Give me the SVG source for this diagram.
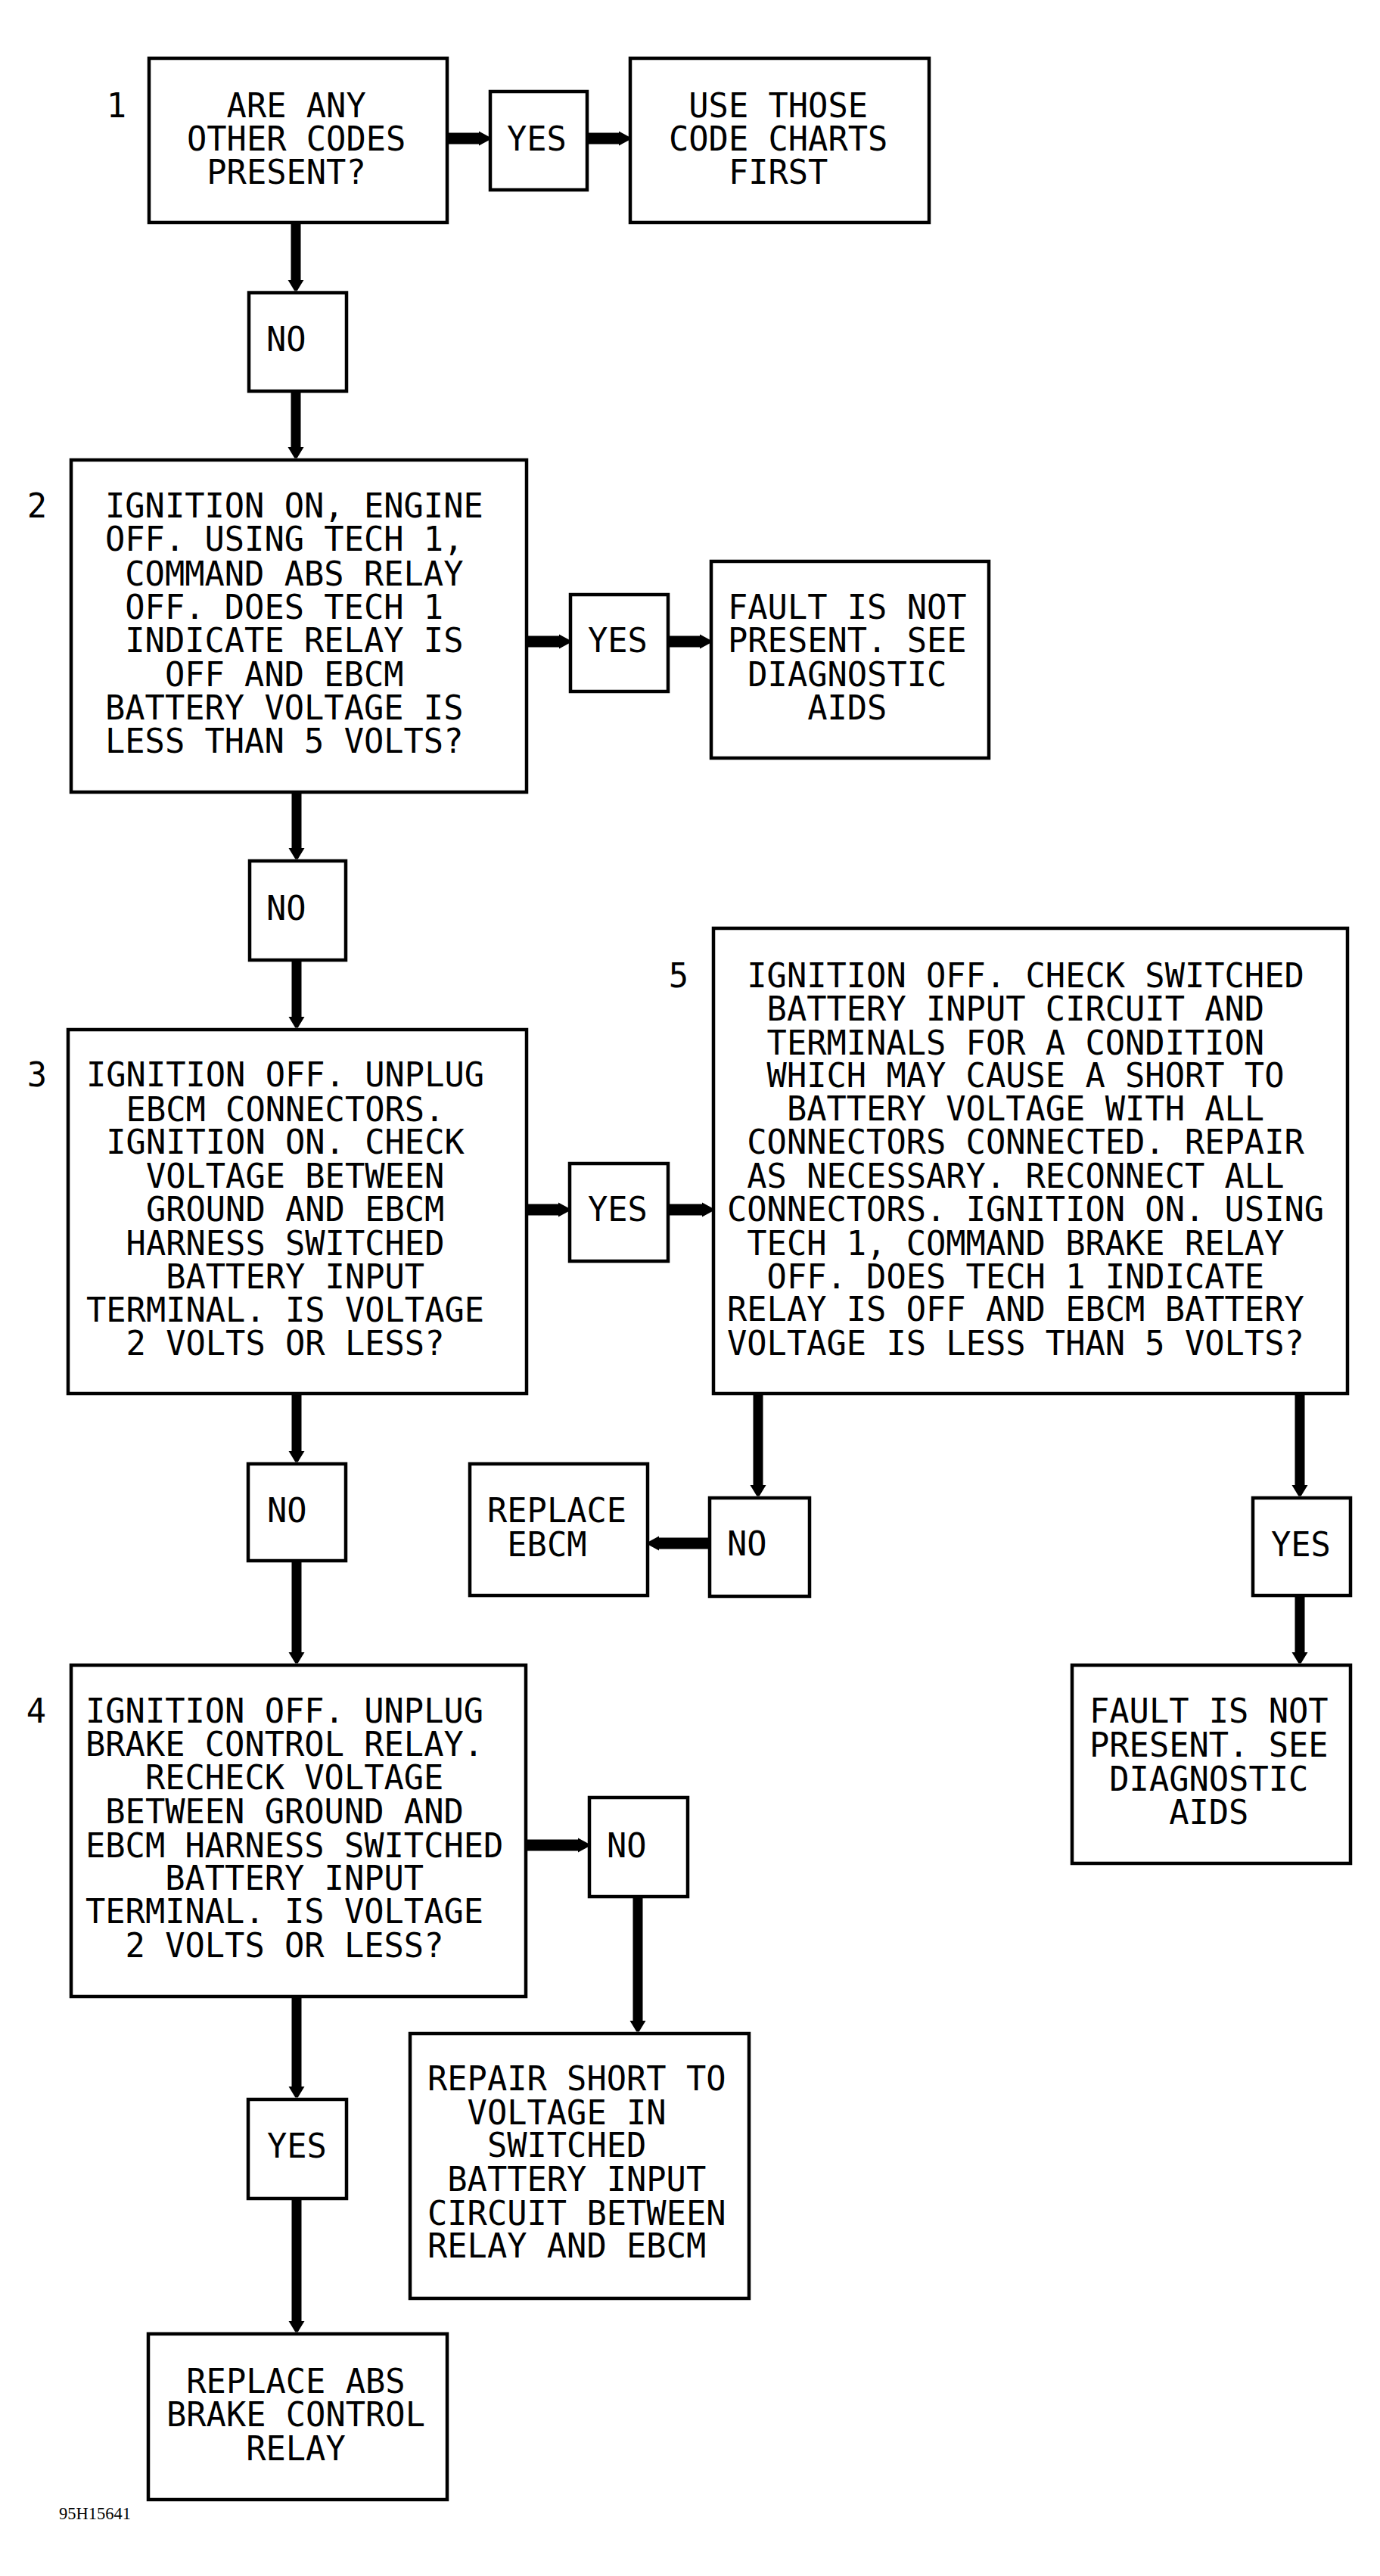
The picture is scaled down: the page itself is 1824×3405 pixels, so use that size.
<svg xmlns="http://www.w3.org/2000/svg" width="1824" height="3405" viewBox="0 0 1824 3405">
<defs>
<style>
.box{fill:#fff;stroke:#000;stroke-width:4.5}
.t{font-family:"DejaVu Sans Mono","Liberation Mono",monospace;font-size:43.7px;fill:#000}
.n{font-family:"DejaVu Sans Mono","Liberation Mono",monospace;font-size:43.7px;fill:#000;text-anchor:middle}
.v{fill:none;stroke:#000;stroke-width:13;stroke-linecap:butt;marker-end:url(#av)}
.h{fill:none;stroke:#000;stroke-width:15;stroke-linecap:butt;marker-end:url(#ahz)}
.code{font-family:"Liberation Serif",serif;font-size:22.5px;fill:#000}
</style>
<marker id="av" markerUnits="userSpaceOnUse" markerWidth="16" markerHeight="22" viewBox="0 -11 16 22" refX="0" refY="0" orient="auto">
<path d="M0,-10.5 L14.5,-1.7 L14.5,1.7 L0,10.5 z" fill="#000"/>
</marker>
<marker id="ahz" markerUnits="userSpaceOnUse" markerWidth="14" markerHeight="20" viewBox="0 -10 14 20" refX="0" refY="0" orient="auto">
<path d="M0,-9.5 L13,-2.5 L13,2.5 L0,9.5 z" fill="#000"/>
</marker>
</defs>
<rect width="1824" height="3405" fill="#fff"/>

<g id="connectors">
<line class="v" x1="391" y1="294" x2="391" y2="370"/>
<line class="v" x1="391" y1="517" x2="391" y2="591"/>
<line class="h" x1="591" y1="183" x2="633" y2="183"/>
<line class="h" x1="776" y1="183" x2="818" y2="183"/>
<line class="h" x1="696" y1="848" x2="739" y2="848"/>
<line class="h" x1="883" y1="848" x2="925" y2="848"/>
<line class="v" x1="392" y1="1047" x2="392" y2="1121"/>
<line class="v" x1="392" y1="1269" x2="392" y2="1344"/>
<line class="h" x1="696" y1="1599" x2="738" y2="1599"/>
<line class="h" x1="883" y1="1599" x2="928" y2="1599"/>
<line class="v" x1="392" y1="1842" x2="392" y2="1918"/>
<line class="v" x1="392" y1="2063" x2="392" y2="2184"/>
<line class="v" x1="1002" y1="1842" x2="1002" y2="1963"/>
<line class="v" x1="1718" y1="1842" x2="1718" y2="1963"/>
<line class="h" x1="938" y1="2040" x2="871" y2="2040"/>
<line class="v" x1="1718" y1="2109" x2="1718" y2="2184"/>
<line class="h" x1="695" y1="2439" x2="764" y2="2439"/>
<line class="v" x1="843" y1="2507" x2="843" y2="2671"/>
<line class="v" x1="392" y1="2639" x2="392" y2="2758"/>
<line class="v" x1="392" y1="2906" x2="392" y2="3068"/>
</g>

<g id="step1">
<rect class="box" x="197" y="77" width="394" height="217"/>
<text class="n" x="154" y="155">1</text>
<text class="t"><tspan x="299.6" y="155">ARE ANY</tspan><tspan x="247" y="199">OTHER CODES</tspan><tspan x="273.3" y="243">PRESENT?</tspan></text>
</g>
<g id="yes1">
<rect class="box" x="648" y="121" width="128" height="130"/>
<text class="t" x="670" y="199">YES</text>
</g>
<g id="use-charts">
<rect class="box" x="833" y="77" width="395" height="217"/>
<text class="t"><tspan x="910.3" y="155">USE THOSE</tspan><tspan x="884" y="199">CODE CHARTS</tspan><tspan x="962.9" y="243">FIRST</tspan></text>
</g>
<g id="no1">
<rect class="box" x="329" y="387" width="129" height="130"/>
<text class="t" x="352" y="464">NO</text>
</g>

<g id="step2">
<rect class="box" x="94" y="608" width="602" height="439"/>
<text class="n" x="49" y="684">2</text>
<text class="t"><tspan x="139" y="684">IGNITION ON, ENGINE</tspan><tspan x="139" y="728">OFF. USING TECH 1,</tspan><tspan x="165.3" y="774">COMMAND ABS RELAY</tspan><tspan x="165.3" y="818">OFF. DOES TECH 1</tspan><tspan x="165.3" y="862">INDICATE RELAY IS</tspan><tspan x="217.9" y="907">OFF AND EBCM</tspan><tspan x="139" y="951">BATTERY VOLTAGE IS</tspan><tspan x="139" y="995">LESS THAN 5 VOLTS?</tspan></text>
</g>
<g id="yes2">
<rect class="box" x="754" y="786" width="129" height="128"/>
<text class="t" x="777" y="862">YES</text>
</g>
<g id="fault1">
<rect class="box" x="940" y="742" width="367" height="260"/>
<text class="t"><tspan x="962" y="818">FAULT IS NOT</tspan><tspan x="962" y="862">PRESENT. SEE</tspan><tspan x="988.3" y="907">DIAGNOSTIC</tspan><tspan x="1067.2" y="951">AIDS</tspan></text>
</g>
<g id="no2">
<rect class="box" x="330" y="1138" width="127" height="131"/>
<text class="t" x="352" y="1216">NO</text>
</g>

<g id="step3">
<rect class="box" x="90" y="1361" width="606" height="481"/>
<text class="n" x="49" y="1436">3</text>
<text class="t"><tspan x="114" y="1436">IGNITION OFF. UNPLUG</tspan><tspan x="166.6" y="1482">EBCM CONNECTORS.</tspan><tspan x="140.3" y="1525">IGNITION ON. CHECK</tspan><tspan x="192.9" y="1570">VOLTAGE BETWEEN</tspan><tspan x="192.9" y="1614">GROUND AND EBCM</tspan><tspan x="166.6" y="1659">HARNESS SWITCHED</tspan><tspan x="219.2" y="1703">BATTERY INPUT</tspan><tspan x="114" y="1747">TERMINAL. IS VOLTAGE</tspan><tspan x="166.6" y="1791">2 VOLTS OR LESS?</tspan></text>
</g>
<g id="yes3">
<rect class="box" x="753" y="1538" width="130" height="129"/>
<text class="t" x="777" y="1614">YES</text>
</g>

<g id="step5">
<rect class="box" x="943" y="1227" width="838" height="615"/>
<text class="n" x="897" y="1305">5</text>
<text class="t"><tspan x="987.3" y="1305">IGNITION OFF. CHECK SWITCHED</tspan><tspan x="1013.6" y="1349">BATTERY INPUT CIRCUIT AND</tspan><tspan x="1013.6" y="1394">TERMINALS FOR A CONDITION</tspan><tspan x="1013.6" y="1437">WHICH MAY CAUSE A SHORT TO</tspan><tspan x="1039.9" y="1481">BATTERY VOLTAGE WITH ALL</tspan><tspan x="987.3" y="1525">CONNECTORS CONNECTED. REPAIR</tspan><tspan x="987.3" y="1570">AS NECESSARY. RECONNECT ALL</tspan><tspan x="961" y="1614">CONNECTORS. IGNITION ON. USING</tspan><tspan x="987.3" y="1659">TECH 1, COMMAND BRAKE RELAY</tspan><tspan x="1013.6" y="1703">OFF. DOES TECH 1 INDICATE</tspan><tspan x="961" y="1746">RELAY IS OFF AND EBCM BATTERY</tspan><tspan x="961" y="1791">VOLTAGE IS LESS THAN 5 VOLTS?</tspan></text>
</g>

<g id="no3">
<rect class="box" x="328" y="1935" width="129" height="128"/>
<text class="t" x="353" y="2012">NO</text>
</g>
<g id="replace-ebcm">
<rect class="box" x="621" y="1935" width="235" height="174"/>
<text class="t"><tspan x="644" y="2012">REPLACE</tspan><tspan x="670.3" y="2057">EBCM</tspan></text>
</g>
<g id="no5">
<rect class="box" x="938" y="1980" width="132" height="130"/>
<text class="t" x="961" y="2056">NO</text>
</g>
<g id="yes5">
<rect class="box" x="1656" y="1980" width="129" height="129"/>
<text class="t" x="1680" y="2057">YES</text>
</g>
<g id="fault2">
<rect class="box" x="1417" y="2201" width="368" height="262"/>
<text class="t"><tspan x="1440" y="2277">FAULT IS NOT</tspan><tspan x="1440" y="2322">PRESENT. SEE</tspan><tspan x="1466.3" y="2367">DIAGNOSTIC</tspan><tspan x="1545.2" y="2411">AIDS</tspan></text>
</g>

<g id="step4">
<rect class="box" x="94" y="2201" width="601" height="438"/>
<text class="n" x="48" y="2277">4</text>
<text class="t"><tspan x="113" y="2277">IGNITION OFF. UNPLUG</tspan><tspan x="113" y="2321">BRAKE CONTROL RELAY.</tspan><tspan x="191.9" y="2365">RECHECK VOLTAGE</tspan><tspan x="139.3" y="2410">BETWEEN GROUND AND</tspan><tspan x="113" y="2455">EBCM HARNESS SWITCHED</tspan><tspan x="218.2" y="2498">BATTERY INPUT</tspan><tspan x="113" y="2542">TERMINAL. IS VOLTAGE</tspan><tspan x="165.6" y="2587">2 VOLTS OR LESS?</tspan></text>
</g>
<g id="no4">
<rect class="box" x="779" y="2376" width="130" height="131"/>
<text class="t" x="802" y="2455">NO</text>
</g>
<g id="repair-short">
<rect class="box" x="542" y="2688" width="448" height="350"/>
<text class="t"><tspan x="565" y="2763">REPAIR SHORT TO</tspan><tspan x="617.6" y="2808">VOLTAGE IN</tspan><tspan x="643.9" y="2851">SWITCHED</tspan><tspan x="591.3" y="2896">BATTERY INPUT</tspan><tspan x="565" y="2941">CIRCUIT BETWEEN</tspan><tspan x="565" y="2984">RELAY AND EBCM</tspan></text>
</g>
<g id="yes4">
<rect class="box" x="328" y="2775" width="130" height="131"/>
<text class="t" x="353" y="2852">YES</text>
</g>
<g id="replace-relay">
<rect class="box" x="196" y="3085" width="395" height="219"/>
<text class="t"><tspan x="246.3" y="3163">REPLACE ABS</tspan><tspan x="220" y="3207">BRAKE CONTROL</tspan><tspan x="325.2" y="3252">RELAY</tspan></text>
</g>
<text class="code" x="78" y="3330">95H15641</text>
</svg>
